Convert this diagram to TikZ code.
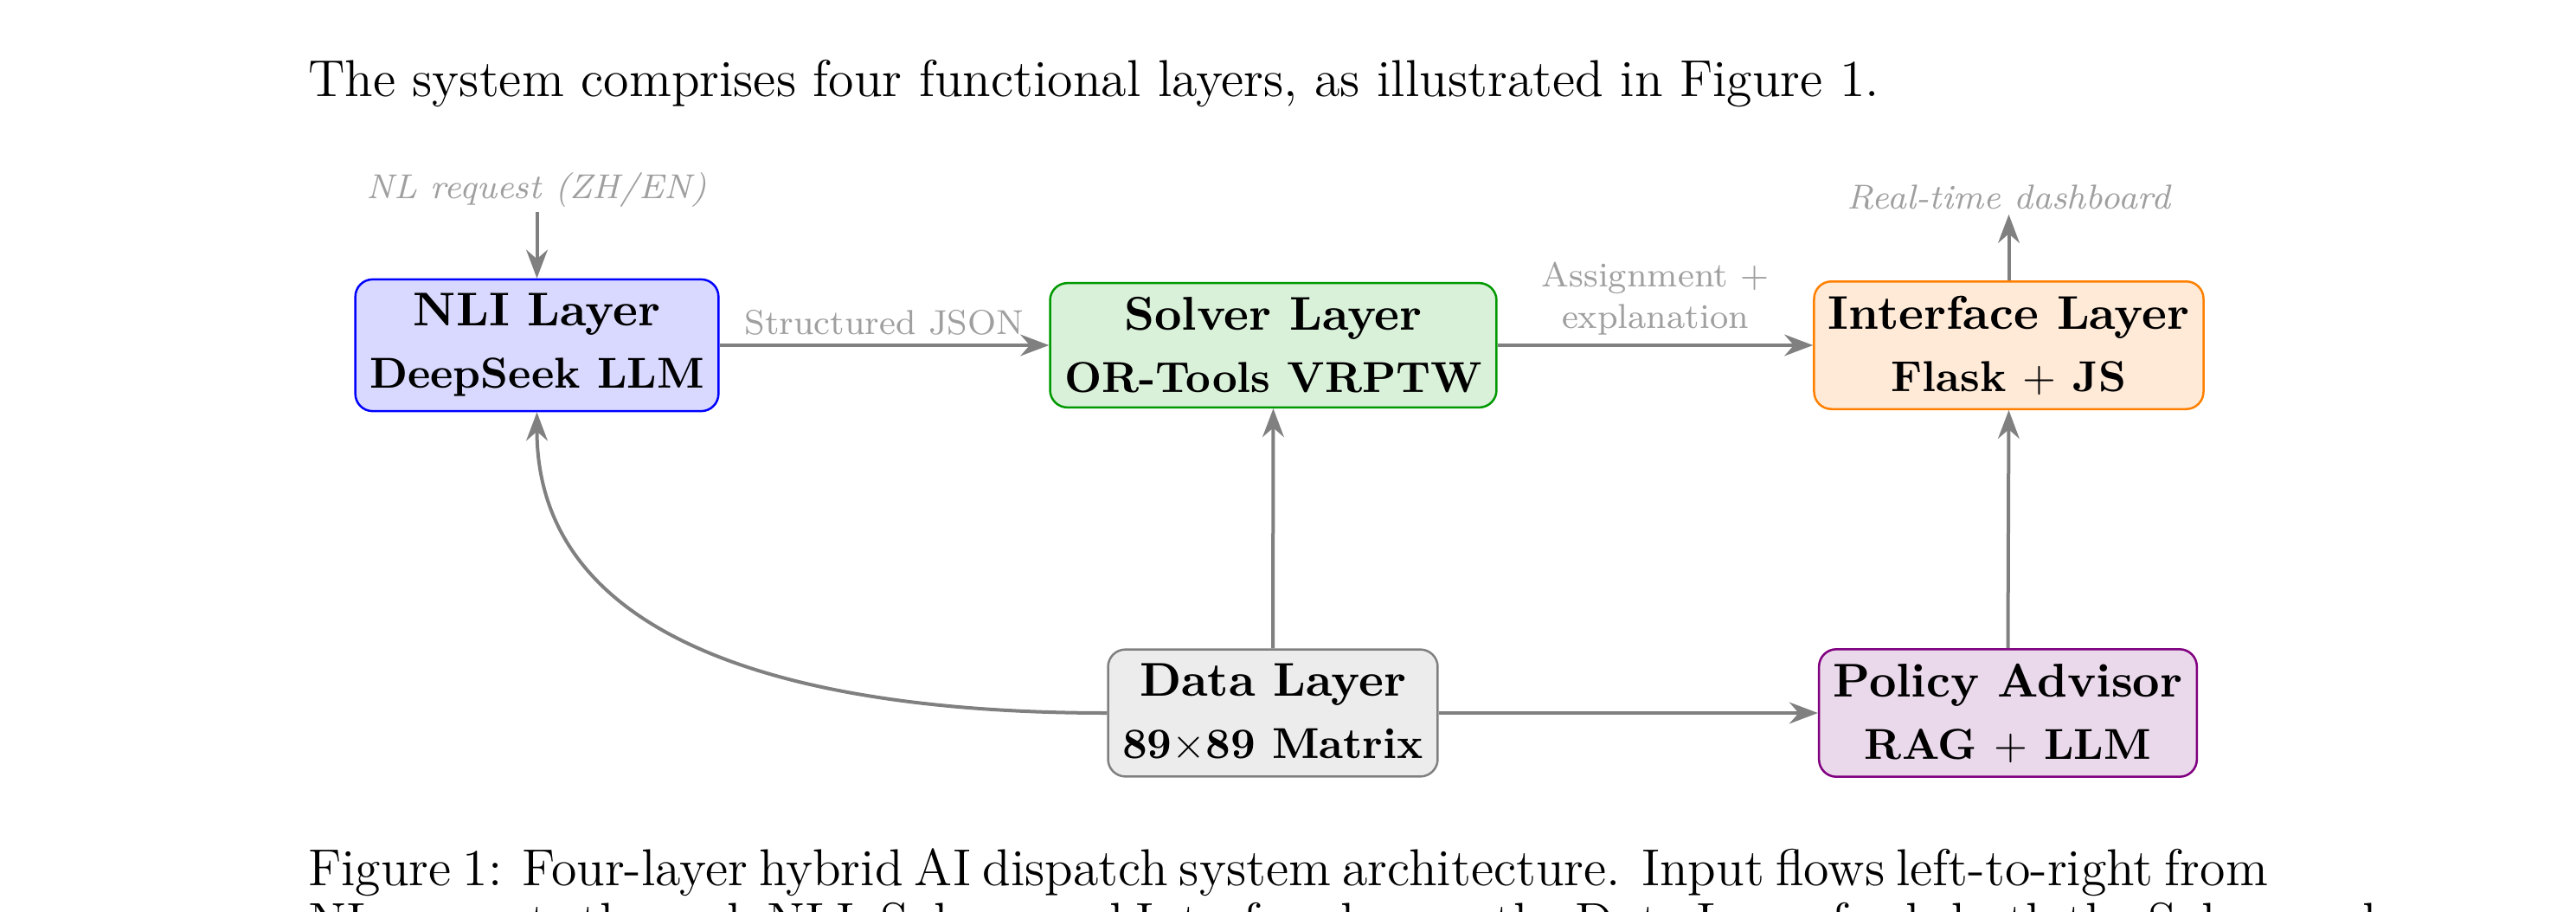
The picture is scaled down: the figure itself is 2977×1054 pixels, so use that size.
\documentclass[tikz,border=0pt]{standalone}
\usetikzlibrary{arrows.meta}
\definecolor{solverdraw}{rgb}{0,0.6,0}
\definecolor{solverfill}{HTML}{D9F0D9}
\definecolor{ifacefill}{HTML}{FFEAD8}
\definecolor{policyfill}{HTML}{EAD8EB}
\definecolor{policydraw}{rgb}{0.5,0,0.5}
\begin{document}
\begin{tikzpicture}[x=0.2pt,y=-0.2pt,
  layer/.style={draw, rounded corners=4pt, line width=0.5pt, align=center,
    inner xsep=3.3pt, inner ysep=3.3pt,
    font=\fontsize{10.95}{14.4}\selectfont\bfseries},
  arr/.style={draw=gray, line width=0.8pt, -{Stealth}},
  lbl/.style={text=gray!75, font=\fontsize{8}{9.5}\selectfont},
  edgelbl/.style={lbl, above, inner sep=2pt},
  body/.style={font=\fontsize{12}{14.5}\selectfont, inner sep=0pt, anchor=base west}]
\useasboundingbox (0,0) rectangle (2977,1054);
\clip (0,0) rectangle (2977,1054);

\node[body] (intro) at (355,111) {The system comprises four functional layers, as illustrated in Figure~1.};

\node[layer, draw=blue, fill=blue!15] (nli) at (620.5,399)
  {NLI Layer\\{\fontsize{10}{14.4}\selectfont DeepSeek LLM}};
\node[layer, draw=solverdraw, fill=solverfill] (solver) at (1471.5,399)
  {Solver Layer\\{\fontsize{10}{14.4}\selectfont OR-Tools VRPTW}};
\node[layer, draw=orange, fill=ifacefill] (iface) at (2321.5,399)
  {Interface Layer\\{\fontsize{10}{14.4}\selectfont Flask $+$ JS}};
\node[layer, draw=gray, fill=gray!15] (data) at (1471,824)
  {Data Layer\\{\fontsize{10}{14.4}\selectfont 89$\times$89 Matrix}};
\node[layer, draw=policydraw, fill=policyfill] (policy) at (2320.5,824)
  {Policy Advisor\\{\fontsize{10}{14.4}\selectfont RAG $+$ LLM}};

\node[lbl, inner sep=1pt, anchor=base, font=\fontsize{8}{9.5}\selectfont\itshape] (nlreq) at (620.5,229) {NL request (ZH/EN)};
\node[lbl, inner sep=1pt, anchor=base, font=\fontsize{8}{9.5}\selectfont\itshape] (dash) at (2321.5,241) {Real-time dashboard};

\draw[arr] (nlreq.south) -- (nli.north);
\draw[arr] (nli.east) -- node[edgelbl] (lblA) {Structured JSON} (solver.west);
\draw[arr] (solver.east) -- node[edgelbl, align=center] (lblB) {Assignment $+$\\explanation} (iface.west);
\draw[arr] (iface.north) -- (dash.south);
\draw[arr] (data.north) -- (solver.south);
\draw[arr] (data.east) -- (policy.west);
\draw[arr] (policy.north) -- (iface.south);
\draw[arr] (data.west) .. controls +(-293,0) and +(0,293) .. (nli.south);

\node[body] (cap1) at (355,1023) {\hbox to 453pt{Figure 1: Four-layer hybrid AI dispatch system architecture. Input flows left-to-right from}};
\node[body] (cap2) at (355,1085) {\hbox to 453pt{NL requests through NLI, Solver, and Interface layers; the Data Layer feeds both the Solver and}};
\end{tikzpicture}
\end{document}
